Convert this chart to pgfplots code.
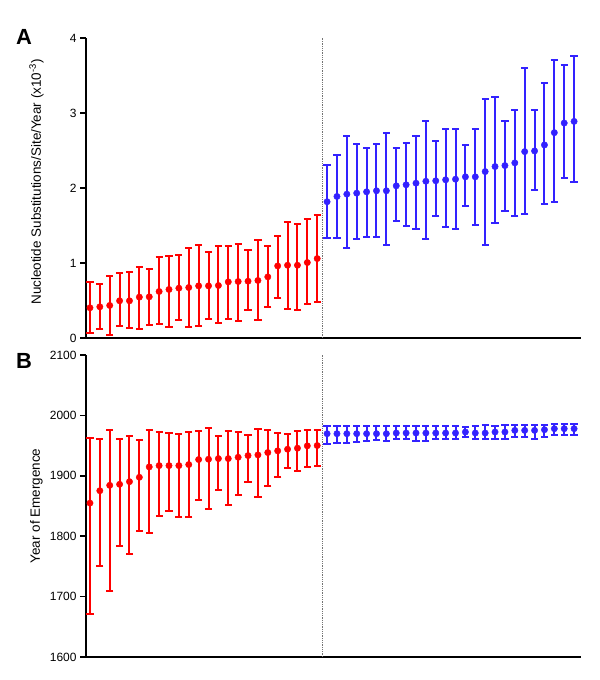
\documentclass[border=0pt]{standalone}
\usepackage{fontspec}
\setmainfont{Liberation Sans}
\usepackage{pgfplots}
\pgfplotsset{compat=1.18}
\usepackage{pgfplotstable}
\definecolor{redpt}{HTML}{FF0000}
\definecolor{bluept}{HTML}{3322FF}

% panel A: substitution rate (x10^-3), point estimate with interval
\pgfplotstableread{
x y lo hi
0 0.403 0.066 0.740
1 0.416 0.120 0.722
2 0.434 0.044 0.824
3 0.496 0.159 0.873
4 0.496 0.137 0.886
5 0.545 0.115 0.952
6 0.549 0.177 0.926
7 0.620 0.182 1.085
8 0.647 0.151 1.090
9 0.664 0.244 1.107
10 0.673 0.146 1.205
11 0.695 0.159 1.236
12 0.695 0.252 1.143
13 0.700 0.204 1.223
14 0.748 0.252 1.232
15 0.753 0.230 1.258
16 0.757 0.368 1.174
17 0.767 0.244 1.302
18 0.815 0.416 1.232
19 0.961 0.536 1.360
20 0.970 0.385 1.540
21 0.970 0.377 1.520
22 1.006 0.452 1.590
23 1.059 0.474 1.644
}\rateRed
\pgfplotstableread{
x y lo hi
24 1.817 1.333 2.303
25 1.887 1.333 2.445
26 1.918 1.200 2.693
27 1.931 1.316 2.582
28 1.949 1.342 2.538
29 1.963 1.351 2.582
30 1.963 1.240 2.738
31 2.029 1.559 2.529
32 2.043 1.493 2.601
33 2.064 1.457 2.693
34 2.090 1.320 2.897
35 2.096 1.621 2.627
36 2.109 1.484 2.781
37 2.117 1.457 2.787
38 2.149 1.758 2.569
39 2.149 1.511 2.781
40 2.219 1.240 3.193
41 2.286 1.537 3.216
42 2.299 1.692 2.897
43 2.335 1.626 3.034
44 2.485 1.657 3.605
45 2.494 1.976 3.043
46 2.574 1.788 3.406
47 2.738 1.810 3.708
48 2.866 2.130 3.637
49 2.888 2.075 3.765
}\rateBlue

% panel B: year of emergence
\pgfplotstableread{
x y lo hi
0 1854.8 1670.9 1962.9
1 1875.3 1751.2 1961.2
2 1884.2 1709.7 1975.6
3 1885.9 1783.9 1961.2
4 1890.3 1770.6 1966.2
5 1897.5 1807.8 1959.0
6 1914.7 1805.0 1975.6
7 1916.9 1832.7 1972.3
8 1916.9 1841.6 1970.6
9 1916.9 1831.0 1969.5
10 1918.6 1831.0 1972.3
11 1926.9 1860.4 1973.4
12 1927.4 1845.4 1978.9
13 1928.5 1877.0 1966.2
14 1928.5 1851.0 1974.5
15 1930.7 1867.6 1972.3
16 1933.5 1889.8 1967.3
17 1934.6 1865.4 1977.8
18 1938.5 1883.7 1975.6
19 1941.3 1898.1 1971.2
20 1944.0 1912.5 1969.5
21 1945.7 1908.6 1973.4
22 1949.6 1914.7 1975.6
23 1950.1 1915.8 1975.6
}\yearRed
\pgfplotstableread{
x y lo hi
24 1969.7 1952.0 1981.8
25 1969.7 1954.8 1981.8
26 1969.7 1954.8 1981.8
27 1969.7 1956.0 1981.8
28 1969.7 1957.6 1981.8
29 1969.7 1958.6 1981.8
30 1969.7 1957.6 1982.5
31 1970.8 1960.3 1981.8
32 1970.8 1960.3 1982.5
33 1970.8 1957.6 1983.0
34 1970.8 1957.6 1983.0
35 1970.8 1960.3 1982.5
36 1970.8 1961.4 1982.5
37 1970.8 1961.4 1983.0
38 1972.5 1964.2 1980.0
39 1970.8 1960.3 1983.0
40 1970.8 1960.3 1983.5
41 1972.5 1961.4 1983.0
42 1972.5 1961.4 1983.5
43 1975.2 1964.2 1983.5
44 1975.2 1964.2 1983.5
45 1975.2 1961.4 1984.0
46 1976.3 1964.2 1984.5
47 1978.0 1966.9 1985.0
48 1978.0 1966.9 1985.0
49 1978.0 1966.9 1985.0
}\yearBlue

\pgfplotsset{
  panel/.style={
    scale only axis, width=495bp,
    xmin=-0.4, xmax=49.7,
    axis x line*=bottom, axis y line*=left,
    axis line style={-, line width=2bp, black},
    xtick=\empty,
    tick align=outside, major tick length=6bp,
    tick style={line width=1.6bp, black},
    tick label style={font=\fontsize{12}{14}\selectfont},
    /pgf/number format/assume math mode=true,
    /pgf/number format/set thousands separator={},
    label style={font=\fontsize{13.5}{16}\selectfont},
    clip=false,
  },
  ci/.style={only marks, mark=*, mark size=3.2bp, color=#1,
    /pgfplots/error bars/y dir=both,
    /pgfplots/error bars/y explicit,
    /pgfplots/error bars/error bar style={line width=2bp, draw=#1},
    /pgfplots/error bars/error mark options={rotate=90, mark size=3.6bp,
      line width=2bp, draw=#1}},
}

\begin{document}
\begin{tikzpicture}
\path[use as bounding box] (0,0) rectangle (600bp,680bp);

\begin{axis}[panel, at={(86bp,342bp)}, anchor=south west, height=300bp,
  ymin=0, ymax=4, ytick={0,1,2,3,4},
  ylabel={Nucleotide Substitutions/Site/Year (x10\textsuperscript{-3})},
  ylabel style={at={(rel axis cs:-0.1,0.52)}, anchor=center, rotate=0}]
  \addplot[black!55, densely dotted, line width=0.8bp]
    coordinates {(23.5,0) (23.5,4)};
  \addplot[ci=redpt] table[x=x, y=y,
    y error plus expr=\thisrow{hi}-\thisrow{y},
    y error minus expr=\thisrow{y}-\thisrow{lo}] {\rateRed};
  \addplot[ci=bluept] table[x=x, y=y,
    y error plus expr=\thisrow{hi}-\thisrow{y},
    y error minus expr=\thisrow{y}-\thisrow{lo}] {\rateBlue};
\end{axis}

\begin{axis}[panel, at={(86bp,23bp)}, anchor=south west, height=302bp,
  ymin=1600, ymax=2100, ytick={1600,1700,...,2100},
  ylabel={Year of Emergence},
  ylabel style={at={(rel axis cs:-0.1,0.5)}, anchor=center, rotate=0}]
  \addplot[black!55, densely dotted, line width=0.8bp]
    coordinates {(23.5,1600) (23.5,2100)};
  \addplot[ci=redpt] table[x=x, y=y,
    y error plus expr=\thisrow{hi}-\thisrow{y},
    y error minus expr=\thisrow{y}-\thisrow{lo}] {\yearRed};
  \addplot[ci=bluept] table[x=x, y=y,
    y error plus expr=\thisrow{hi}-\thisrow{y},
    y error minus expr=\thisrow{y}-\thisrow{lo}] {\yearBlue};
\end{axis}

\node[font=\bfseries\fontsize{22}{24}\selectfont] at (24bp,643bp) {A};
\node[font=\bfseries\fontsize{22}{24}\selectfont] at (24bp,319bp) {B};
\end{tikzpicture}
\end{document}
